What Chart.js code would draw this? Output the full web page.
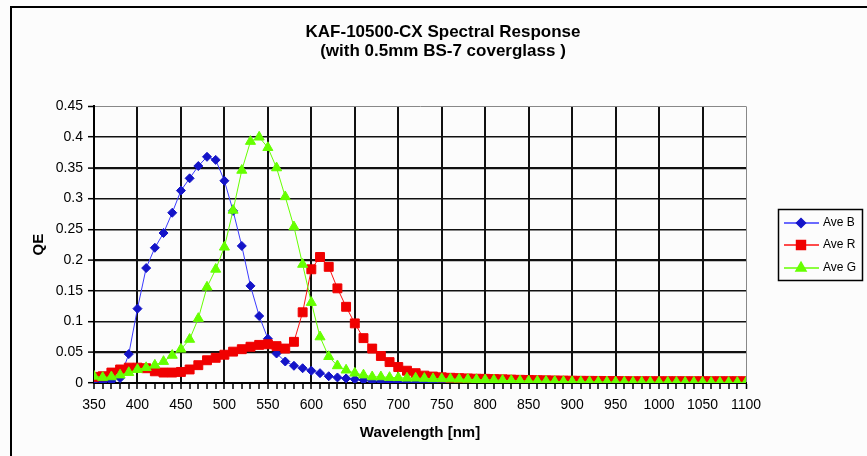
<!DOCTYPE html>
<html>
<head>
<meta charset="utf-8">
<script src="https://cdn.jsdelivr.net/npm/chart.js@4/dist/chart.umd.min.js"></script>
<style>
	html, body { margin: 0; padding: 0; background: #fcfcfc; }
	canvas { display: block; }
</style>
</head>
<body>
<canvas id="graficoQE" width="867" height="456"></canvas>
<script>
var comprimentos = [350, 360, 370, 380, 390, 400, 410, 420, 430, 440,
	450, 460, 470, 480, 490, 500, 510, 520, 530, 540,
	550, 560, 570, 580, 590, 600, 610, 620, 630, 640,
	650, 660, 670, 680, 690, 700, 710, 720, 730, 740,
	750, 760, 770, 780, 790, 800, 810, 820, 830, 840,
	850, 860, 870, 880, 890, 900, 910, 920, 930, 940,
	950, 960, 970, 980, 990, 1000, 1010, 1020, 1030, 1040,
	1050, 1060, 1070, 1080, 1090, 1100];

var aveB = [0.003, 0.002, 0.003, 0.008, 0.047, 0.121, 0.187, 0.220, 0.244, 0.277,
	0.313, 0.333, 0.353, 0.368, 0.363, 0.329, 0.280, 0.223, 0.158, 0.109,
	0.072, 0.048, 0.035, 0.028, 0.024, 0.020, 0.016, 0.011, 0.009, 0.0075,
	0.006, 0.005, 0.003, 0.002, 0.002, 0.001, 0.001, 0.001, 0.001, 0.001,
	0.001, 0.001, 0.001, 0.001, 0.001, 0.001, 0, 0, 0, 0,
	0, 0, 0, 0, 0, 0, 0, 0, 0, 0,
	0, 0, 0, 0, 0, 0, 0, 0, 0, 0,
	0, 0, 0, 0, 0, 0];

var aveR = [0.010, 0.011, 0.017, 0.022, 0.025, 0.025, 0.024, 0.019, 0.017, 0.017,
	0.018, 0.022, 0.029, 0.037, 0.041, 0.046, 0.051, 0.055, 0.059, 0.062,
	0.063, 0.060, 0.056, 0.067, 0.115, 0.185, 0.205, 0.189, 0.154, 0.124,
	0.097, 0.073, 0.056, 0.044, 0.034, 0.026, 0.020, 0.016, 0.012, 0.0105,
	0.0093, 0.0085, 0.008, 0.0075, 0.007, 0.0068, 0.0064, 0.006, 0.0056, 0.0052,
	0.005, 0.0047, 0.0044, 0.0042, 0.004, 0.0038, 0.0036, 0.0035, 0.0034, 0.0033,
	0.0032, 0.0031, 0.003, 0.003, 0.003, 0.003, 0.003, 0.003, 0.003, 0.003,
	0.003, 0.003, 0.003, 0.003, 0.003, 0.003];

var aveG = [0.011, 0.009, 0.010, 0.013, 0.017, 0.022, 0.025, 0.029, 0.035, 0.045,
	0.055, 0.071, 0.105, 0.156, 0.185, 0.221, 0.281, 0.346, 0.393, 0.400,
	0.383, 0.350, 0.303, 0.254, 0.193, 0.131, 0.075, 0.043, 0.028, 0.021,
	0.016, 0.013, 0.010, 0.010, 0.009, 0.0087, 0.008, 0.008, 0.0075, 0.007,
	0.007, 0.0066, 0.0062, 0.006, 0.0056, 0.0052, 0.0048, 0.0044, 0.004, 0.0036,
	0.0032, 0.003, 0.0028, 0.0026, 0.0024, 0.0022, 0.002, 0.002, 0.0018, 0.0018,
	0.0016, 0.0016, 0.0015, 0.0015, 0.0014, 0.0014, 0.0013, 0.0013, 0.0012, 0.0012,
	0.0012, 0.0011, 0.0011, 0.001, 0.001, 0.001];

var titulo = ['KAF-10500-CX Spectral Response', '(with 0.5mm BS-7 coverglass )'];
var FONTE = '"Liberation Sans", Arial, sans-serif';

// moldura externa e legenda com linha + marcador
var moldura = {
	id: 'moldura',
	beforeDraw: function(chart) {
		var ctx = chart.ctx;
		ctx.save();
		ctx.fillStyle = '#fcfcfc';
		ctx.fillRect(0, 0, chart.width, chart.height);
		ctx.strokeStyle = '#000';
		ctx.lineWidth = 2;
		ctx.strokeRect(11, 7, 900, 500);
		ctx.restore();
	},
	afterDraw: function(chart) {
		var ctx = chart.ctx;
		ctx.save();
		ctx.strokeStyle = '#000';
		ctx.lineWidth = 1.5;
		ctx.strokeRect(778.5, 209.5, 84, 71);
		var linhas = [223, 245, 268];
		chart.data.datasets.forEach(function(ds, i) {
			var y = linhas[i];
			ctx.strokeStyle = ds.borderColor;
			ctx.lineWidth = 1.5;
			ctx.beginPath();
			ctx.moveTo(784, y);
			ctx.lineTo(819, y);
			ctx.stroke();
			ctx.fillStyle = ds.pointBackgroundColor;
			ctx.strokeStyle = ds.pointBorderColor;
			Chart.helpers.drawPoint(ctx, {
				pointStyle: ds.pointStyle,
				radius: ds.pointRadius,
				rotation: 0,
				borderWidth: 1
			}, 801, y);
			ctx.fillStyle = '#000';
			ctx.font = '12px ' + FONTE;
			ctx.textBaseline = 'middle';
			ctx.textAlign = 'left';
			ctx.fillText(ds.label, 823, y);
		});
		ctx.restore();
	}
};

var grafico = new Chart(document.getElementById('graficoQE').getContext('2d'), {
	type: 'line',
	data: {
		labels: comprimentos,
		datasets: [{
			label: 'Ave B',
			data: aveB,
			order: 3,
			borderColor: '#3a3aff',
			borderWidth: 1,
			pointStyle: 'rectRot',
			pointRadius: 4.5,
			pointBackgroundColor: '#1414c8',
			pointBorderColor: '#1414c8',
			pointBorderWidth: 1
		}, {
			label: 'Ave R',
			data: aveR,
			order: 2,
			borderColor: '#ff1010',
			borderWidth: 1,
			pointStyle: 'rect',
			pointRadius: 6.3,
			pointBackgroundColor: '#f00000',
			pointBorderColor: '#f00000',
			pointBorderWidth: 1
		}, {
			label: 'Ave G',
			data: aveG,
			order: 1,
			borderColor: '#66ff00',
			borderWidth: 1,
			pointStyle: 'triangle',
			pointRadius: 5.8,
			pointBackgroundColor: '#66ff00',
			pointBorderColor: '#66ff00',
			pointBorderWidth: 1
		}]
	},
	options: {
		responsive: false,
		animation: false,
		layout: { padding: { left: 20, right: 1, top: 0, bottom: 0 } },
		plugins: {
			legend: { display: false },
			tooltip: { enabled: false },
			title: {
				display: true,
				text: titulo,
				color: '#000',
				font: { family: FONTE, size: 17, weight: 'bold', lineHeight: 1.1 },
				padding: { top: 23, bottom: 46 }
			}
		},
		scales: {
			x: {
				type: 'linear',
				min: 350,
				max: 1100,
				afterFit: function(escala) { escala.height = 73; },
				ticks: {
					stepSize: 10,
					maxTicksLimit: 100,
					autoSkip: false,
					maxRotation: 0,
					padding: 8,
					color: '#000',
					font: { family: FONTE, size: 14 },
					callback: function(valor) { return valor % 50 === 0 ? valor : ''; }
				},
				grid: {
					color: function(c) {
						if (c.tick.value === 1100) return '#888';
						return c.tick.value % 50 === 0 ? '#111' : 'rgba(0,0,0,0)';
					},
					lineWidth: function(c) { return c.tick.value === 1100 ? 1 : 2; },
					tickColor: '#000',
					tickWidth: 1.5,
					tickLength: 6
				},
				border: { color: '#000', width: 2 },
				title: {
					display: true,
					text: 'Wavelength [nm]',
					color: '#000',
					font: { family: FONTE, size: 15, weight: 'bold', lineHeight: 1.2 },
					padding: { top: 0, bottom: 14 }
				}
			},
			y: {
				min: 0,
				max: 0.45,
				afterFit: function(escala) { escala.width = 74; },
				ticks: {
					stepSize: 0.05,
					padding: 5,
					color: '#000',
					font: { family: FONTE, size: 14 },
					callback: function(valor) { return String(parseFloat(valor.toFixed(2))); }
				},
				grid: {
					color: function(c) { return c.tick.value > 0.44 ? '#888' : '#111'; },
					lineWidth: function(c) {
						var v = Math.round(c.tick.value * 100);
						if (v === 45) return 1;
						return (v === 35 || v === 20 || v === 5) ? 2.2 : 1.4;
					},
					tickColor: '#000',
					tickWidth: 1.5,
					tickLength: 6
				},
				border: { color: '#000', width: 2 },
				title: {
					display: true,
					text: 'QE',
					color: '#000',
					font: { family: FONTE, size: 15, weight: 'bold', lineHeight: 1.2 },
					padding: { top: 10, bottom: 0 }
				}
			},
			lado: {
				position: 'right',
				display: true,
				afterFit: function(escala) { escala.width = 120; },
				ticks: { display: false },
				grid: { display: false, drawTicks: false },
				border: { display: false }
			}
		}
	},
	plugins: [moldura]
});
</script>
</body>
</html>
